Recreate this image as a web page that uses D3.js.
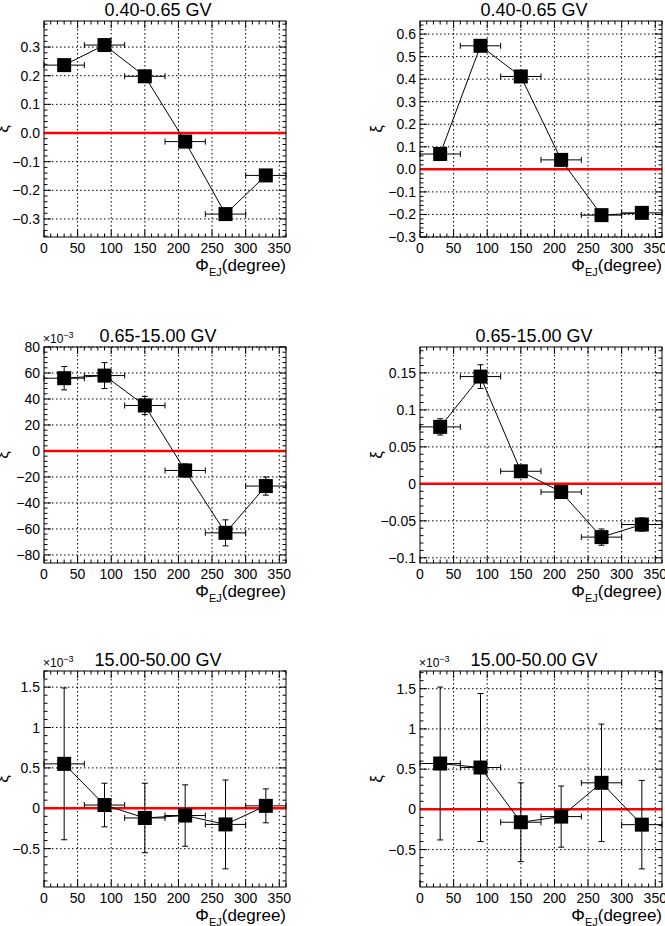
<!DOCTYPE html>
<html>
<head>
<meta charset="utf-8">
<script src="https://cdn.jsdelivr.net/npm/d3@7"></script>
<style>
  body { margin: 0; background: #fff; }
  text { font-family: "Liberation Sans", Arial, sans-serif; fill: #000; }
</style>
</head>
<body>
<svg id="chart" width="665" height="926"></svg>
<script>
// phi bin centres and half widths (degree)
const phi = [30, 90, 150, 210, 270, 330];
const phiErr = 30;

const titles = ["0.40-0.65 GV", "0.40-0.65 GV", "0.65-15.00 GV", "0.65-15.00 GV", "15.00-50.00 GV", "15.00-50.00 GV"];

// xi values per panel (rows top to bottom, left then right)
const xiA = [0.237, 0.307, 0.198, -0.030, -0.283, -0.148];
const errA = [0.010, 0.014, 0.010, 0.010, 0.012, 0.008];
const xiB = [0.068, 0.548, 0.412, 0.042, -0.203, -0.193];
const errB = [0.012, 0.018, 0.014, 0.012, 0.010, 0.010];
const xiC = [56, 58, 35, -15, -63, -27];          // x 1e-3
const errC = [9, 10, 7, 5, 10, 7];
const xiD = [0.077, 0.145, 0.017, -0.011, -0.072, -0.055];
const errD = [0.011, 0.016, 0.004, 0.004, 0.011, 0.009];
const xiE = [0.55, 0.04, -0.12, -0.09, -0.20, 0.03]; // x 1e-3
const errE = [0.94, 0.27, 0.43, 0.38, 0.55, 0.21];
const xiF = [0.57, 0.52, -0.16, -0.09, 0.33, -0.19]; // x 1e-3
const errF = [0.95, 0.92, 0.49, 0.38, 0.73, 0.55];

const yDomains = [[-0.363, 0.391], [-0.300, 0.658], [-86.2, 80], [-0.107, 0.185], [-0.975, 1.70], [-0.965, 1.72]];
const yMajor = [0.1, 0.1, 20, 0.05, 0.5, 0.5];
const yMinor = [0.02, 0.02, 4, 0.01, 0.1, 0.1];
const yFmt = [d3.format(".1f"), d3.format(".1f"), d3.format("d"), d3.format(".2~f"), d3.format(".1~f"), d3.format(".1~f")];
const exp3 = [false, false, true, false, true, true];

const series = [[xiA, errA], [xiB, errB], [xiC, errC], [xiD, errD], [xiE, errE], [xiF, errF]];

// frame boxes
const colX = [44, 420], frameW = 242;
const rowY = [21, 347, 671], frameH = 216;

const svg = d3.select("#chart");
const fmtNeg = s => s.replace("-", "\u2212");

series.forEach(([vals, errs], i) => {
  const fx = colX[i % 2], fy = rowY[Math.floor(i / 2)];
  const g = svg.append("g").attr("transform", `translate(${fx},${fy})`);
  const x = d3.scaleLinear().domain([0, 360]).range([0, frameW]);
  const y = d3.scaleLinear().domain(yDomains[i]).range([frameH, 0]);

  const xMaj = d3.range(0, 361, 50), xMin = d3.range(0, 361, 10);
  const [y0, y1] = yDomains[i];
  const yMaj = d3.range(Math.ceil(y0 / yMajor[i] - 1e-6), Math.floor(y1 / yMajor[i] + 1e-6) + 1).map(k => +(k * yMajor[i]).toFixed(4));
  const yMin = d3.range(Math.ceil(y0 / yMinor[i] - 1e-6), Math.floor(y1 / yMinor[i] + 1e-6) + 1).map(k => k * yMinor[i]);

  // grid
  g.selectAll(".gx").data(xMaj.filter(v => v > 0 && v < 360)).join("line")
    .attr("x1", d => x(d)).attr("x2", d => x(d)).attr("y1", 0).attr("y2", frameH)
    .attr("stroke", "#000").attr("stroke-width", 1).attr("stroke-dasharray", "1.5,2.5");
  g.selectAll(".gy").data(yMaj).join("line")
    .attr("y1", d => y(d)).attr("y2", d => y(d)).attr("x1", 0).attr("x2", frameW)
    .attr("stroke", "#000").attr("stroke-width", 1).attr("stroke-dasharray", "1.5,2.5");

  // ticks on all sides
  const tk = g.append("g").attr("stroke", "#000").attr("stroke-width", 1);
  xMin.forEach(v => {
    const L = v % 50 === 0 ? 7 : 3.5;
    tk.append("line").attr("x1", x(v)).attr("x2", x(v)).attr("y1", frameH).attr("y2", frameH - L);
    tk.append("line").attr("x1", x(v)).attr("x2", x(v)).attr("y1", 0).attr("y2", L);
  });
  yMin.forEach(v => {
    const isMaj = Math.abs(v / yMajor[i] - Math.round(v / yMajor[i])) < 1e-6;
    const L = isMaj ? 7 : 3.5;
    tk.append("line").attr("y1", y(v)).attr("y2", y(v)).attr("x1", 0).attr("x2", L);
    tk.append("line").attr("y1", y(v)).attr("y2", y(v)).attr("x1", frameW).attr("x2", frameW - L);
  });

  // zero line
  g.append("line").attr("x1", x(0)).attr("x2", x(360)).attr("y1", y(0)).attr("y2", y(0))
    .attr("stroke", "#ff0000").attr("stroke-width", 2.5);

  // frame
  g.append("rect").attr("width", frameW).attr("height", frameH)
    .attr("fill", "none").attr("stroke", "#000").attr("stroke-width", 1);

  // tick labels
  g.selectAll(".xl").data(xMaj).join("text")
    .attr("x", d => x(d)).attr("y", frameH + 16).attr("text-anchor", "middle")
    .attr("font-size", 14).text(d => d);
  g.selectAll(".yl").data(yMaj).join("text")
    .attr("x", -4).attr("y", d => y(d) + 5).attr("text-anchor", "end")
    .attr("font-size", 14).text(d => fmtNeg(yFmt[i](d)));

  if (exp3[i]) {
    const t = g.append("text").attr("x", -1).attr("y", -4).attr("font-size", 12);
    t.append("tspan").text("\u00d710");
    t.append("tspan").attr("dy", -5).attr("font-size", 9).text("\u22123");
  }

  // axis titles
  const xt = g.append("text").attr("x", frameW).attr("y", frameH + 34)
    .attr("text-anchor", "end").attr("font-size", 17);
  xt.append("tspan").text("\u03a6");
  xt.append("tspan").attr("dy", 5).attr("font-size", 11).text("EJ");
  xt.append("tspan").attr("dy", -5).text("(degree)");
  g.append("text").attr("transform", `translate(${i % 2 ? -38 : -36},${frameH * 0.5}) rotate(-90)`)
    .attr("text-anchor", "middle").attr("font-size", 17).text("\u03be");

  g.append("text").attr("x", frameW / 2 - 7).attr("y", -5).attr("text-anchor", "middle")
    .attr("font-size", 18).text(titles[i]);

  // data
  const pts = phi.map((p, k) => ({ p, v: vals[k], e: errs[k] }));
  g.append("path").datum(pts)
    .attr("d", d3.line().x(d => x(d.p)).y(d => y(d.v)))
    .attr("fill", "none").attr("stroke", "#000").attr("stroke-width", 1);
  const eb = g.append("g").attr("stroke", "#000").attr("stroke-width", 1);
  pts.forEach(d => {
    eb.append("line").attr("x1", x(d.p - phiErr)).attr("x2", x(d.p + phiErr)).attr("y1", y(d.v)).attr("y2", y(d.v));
    eb.append("line").attr("x1", x(d.p)).attr("x2", x(d.p)).attr("y1", y(d.v - d.e)).attr("y2", y(d.v + d.e));
    [d.p - phiErr, d.p + phiErr].forEach(e => eb.append("line").attr("x1", x(e)).attr("x2", x(e)).attr("y1", y(d.v) - 3).attr("y2", y(d.v) + 3));
    [d.v - d.e, d.v + d.e].forEach(e => eb.append("line").attr("x1", x(d.p) - 3).attr("x2", x(d.p) + 3).attr("y1", y(e)).attr("y2", y(e)));
  });
  g.selectAll(".m").data(pts).join("rect")
    .attr("x", d => x(d.p) - 7).attr("y", d => y(d.v) - 7).attr("width", 14).attr("height", 14)
    .attr("fill", "#000");
});
</script>
</body>
</html>
